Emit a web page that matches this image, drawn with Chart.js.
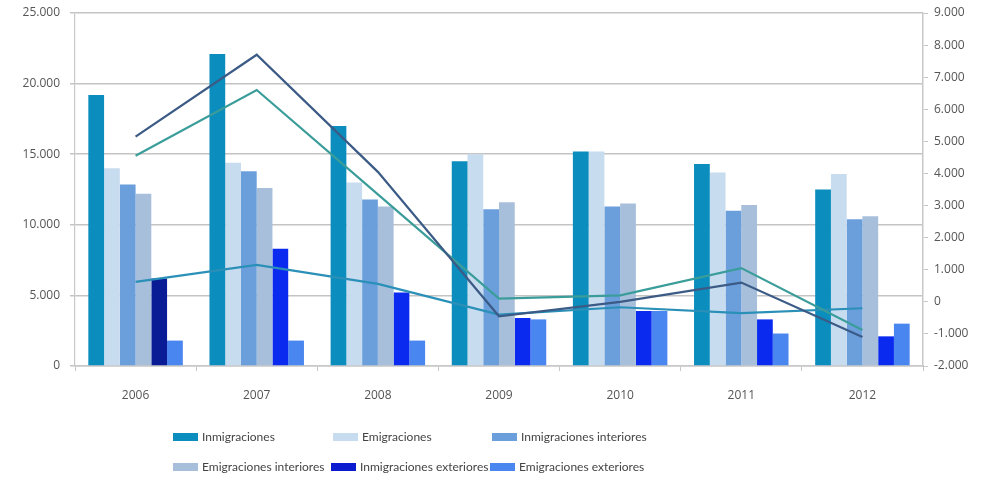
<!DOCTYPE html>
<html>
<head>
<meta charset="utf-8">
<script src="https://cdn.jsdelivr.net/npm/chart.js@4.4.1/dist/chart.umd.min.js"></script>
<style>
  body { margin: 0; background: #fff; }
  #wrap { position: relative; width: 984px; height: 482px; }
  #leyenda { position: absolute; left: 0; top: 0; width: 984px; height: 482px; pointer-events: none;
    font-family: 'Lato', sans-serif; font-size: 12px; color: #444; }
  .item { position: absolute; display: flex; align-items: center; white-space: nowrap; }
  .caja { width: 25px; height: 8px; margin-right: 4px; }
</style>
</head>
<body>
<div id="wrap">
  <canvas id="grafico" width="984" height="482"></canvas>
  <div id="leyenda"></div>
</div>
<script>
// ========== DATOS ==========
const anios = ['2006', '2007', '2008', '2009', '2010', '2011', '2012'];

const inmigraciones = [19200, 22100, 17000, 14500, 15200, 14300, 12500];
const emigraciones = [14000, 14400, 13000, 15000, 15200, 13700, 13600];
const inmigracionesInteriores = [12850, 13800, 11800, 11100, 11300, 11000, 10400];
const emigracionesInteriores = [12200, 12600, 11300, 11600, 11500, 11400, 10600];
const inmigracionesExteriores = [6200, 8300, 5200, 3400, 3900, 3300, 2100];
const emigracionesExteriores = [1800, 1800, 1800, 3300, 3900, 2300, 3000];

// saldos (eje derecho)
const saldoTotal = [5150, 7700, 4050, -450, 0, 600, -1100];
const saldoInterior = [4550, 6600, 3350, 100, 200, 1050, -880];
const saldoExterior = [620, 1150, 560, -400, -170, -350, -200];

const ticksIzq = { min: 0, max: 25000, paso: 5000 };
const ticksDer = { min: -2000, max: 9000, paso: 1000 };

// ========== COLORES ==========
const colores = {
    inm: '#0b8dbd',
    emi: '#c8dcf0',
    inmInt: '#6b9fdc',
    emiInt: '#a8bfdc',
    inmExt: '#0a2af0',
    emiExt: '#4a86f0'
};
// 2006 aparece más oscuro en el original
const coloresInmExt = ['#0a1b96', colores.inmExt, colores.inmExt, colores.inmExt, colores.inmExt, colores.inmExt, colores.inmExt];

function formatoMiles(v) {
    const neg = v < 0;
    const s = String(Math.abs(v)).replace(/\B(?=(\d{3})+(?!\d))/g, '.');
    return (neg ? '-' : '') + s;
}

const fuente = { family: 'Open Sans', size: 12 };

function barra(label, data, color) {
    return {
        type: 'bar',
        label: label,
        data: data,
        backgroundColor: color,
        borderWidth: 0,
        yAxisID: 'y',
        order: 1,
        categoryPercentage: 0.78,
        barPercentage: 1.0
    };
}

function linea(label, data, color) {
    return {
        type: 'line',
        label: label,
        data: data,
        borderColor: color,
        backgroundColor: color,
        borderWidth: 2.2,
        pointRadius: 0,
        tension: 0,
        fill: false,
        yAxisID: 'y1',
        order: 0
    };
}

const ctx = document.getElementById('grafico').getContext('2d');
const grafico = new Chart(ctx, {
    data: {
        labels: anios,
        datasets: [
            barra('Inmigraciones', inmigraciones, colores.inm),
            barra('Emigraciones', emigraciones, colores.emi),
            barra('Inmigraciones interiores', inmigracionesInteriores, colores.inmInt),
            barra('Emigraciones interiores', emigracionesInteriores, colores.emiInt),
            barra('Inmigraciones exteriores', inmigracionesExteriores, coloresInmExt),
            barra('Emigraciones exteriores', emigracionesExteriores, colores.emiExt),
            linea('Saldo total', saldoTotal, '#3b5b86'),
            linea('Saldo interior', saldoInterior, '#3b9d9a'),
            linea('Saldo exterior', saldoExterior, '#2a90b8')
        ]
    },
    options: {
        responsive: false,
        animation: false,
        layout: { padding: { top: 13, bottom: 76, left: 0, right: 0 } },
        plugins: {
            legend: { display: false },
            tooltip: { enabled: false }
        },
        scales: {
            x: {
                offset: true,
                grid: { drawOnChartArea: false, color: '#c8c8c8', tickLength: 5, offset: true },
                border: { color: '#c8c8c8', width: 1.5 },
                ticks: { font: fuente, color: '#555', padding: 17 },
                afterFit: function(scale) { scale.height = 40; }
            },
            y: {
                position: 'left',
                min: ticksIzq.min,
                max: ticksIzq.max,
                grid: { color: '#c4c4c4', lineWidth: 1.5, tickLength: 5 },
                border: { color: '#c8c8c8', width: 1.2 },
                ticks: {
                    stepSize: ticksIzq.paso,
                    font: fuente,
                    color: '#555',
                    padding: 10,
                    callback: function(v) { return formatoMiles(v); }
                },
                afterFit: function(scale) {
                    scale.width = 75;
                    scale.paddingTop = 0;
                    scale.paddingBottom = 0;
                }
            },
            y1: {
                position: 'right',
                min: ticksDer.min,
                max: ticksDer.max,
                grid: { drawOnChartArea: false, color: '#c8c8c8', tickLength: 5 },
                border: { color: '#c8c8c8', width: 1.5 },
                ticks: {
                    stepSize: ticksDer.paso,
                    font: fuente,
                    color: '#555',
                    padding: 6,
                    callback: function(v) { return formatoMiles(v); }
                },
                afterFit: function(scale) {
                    scale.width = 61;
                    scale.paddingTop = 0;
                    scale.paddingBottom = 0;
                }
            }
        }
    }
});

// ========== LEYENDA (3 columnas, como el original) ==========
const itemsLeyenda = [
    { texto: 'Inmigraciones', color: colores.inm, x: 173, y: 438 },
    { texto: 'Emigraciones', color: colores.emi, x: 333, y: 438 },
    { texto: 'Inmigraciones interiores', color: colores.inmInt, x: 492, y: 438 },
    { texto: 'Emigraciones interiores', color: colores.emiInt, x: 173, y: 468 },
    { texto: 'Inmigraciones exteriores', color: '#0a1bd0', x: 331, y: 468 },
    { texto: 'Emigraciones exteriores', color: colores.emiExt, x: 490, y: 468 }
];
const leyenda = document.getElementById('leyenda');
itemsLeyenda.forEach(function(it) {
    const d = document.createElement('div');
    d.className = 'item';
    d.style.left = it.x + 'px';
    d.style.top = (it.y - 9) + 'px';
    d.innerHTML = '<span class="caja" style="background:' + it.color + '"></span><span>' + it.texto + '</span>';
    leyenda.appendChild(d);
});
</script>
</body>
</html>
